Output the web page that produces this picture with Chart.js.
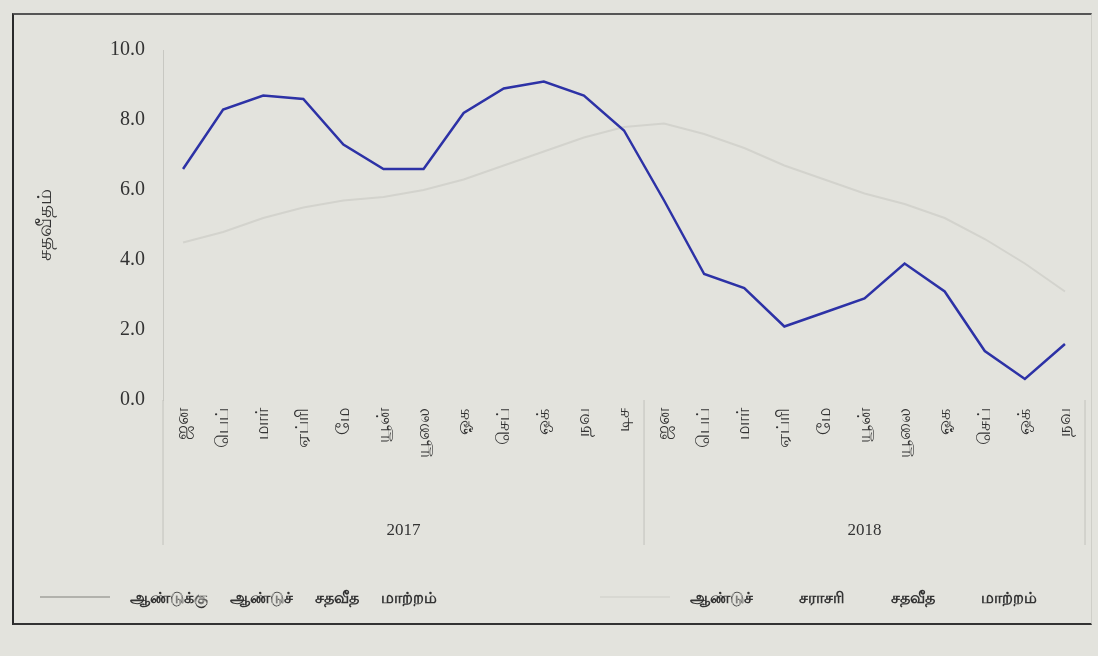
<!DOCTYPE html>
<html>
<head>
<meta charset="utf-8">
<script src="https://cdn.jsdelivr.net/npm/chart.js@4.4.1/dist/chart.umd.min.js"></script>
<style>
  html, body { margin: 0; padding: 0; background: #e3e3dd; }
  #wrap { position: relative; width: 1098px; height: 656px; }
  #frame {
    position: absolute; left: 12px; top: 13px; width: 1080px; height: 612px;
    border-left: 2px solid #2a2a2a; border-top: 2px solid #555; border-bottom: 2px solid #333;
    border-right: 1px solid #cfcfc9; box-sizing: border-box; pointer-events: none;
  }
  .leg { position: absolute; top: 585px; height: 24px; display: flex; align-items: center;
         font: bold 16px 'Noto Sans', 'DejaVu Sans', sans-serif; color: #333; white-space: nowrap; }
  .leg i { display: inline-block; width: 70px; height: 2px; margin-right: 20px; }
</style>
</head>
<body>
<div id="wrap">
  <canvas id="inflChart" width="1098" height="656"></canvas>
  <div id="frame"></div>
  <div class="leg" id="leg0" style="left:40px; word-spacing:18px"></div>
  <div class="leg" id="leg1" style="left:600px; word-spacing:42px"></div>
</div>
<script>
/* data */
const months2017 = ['ஜன', 'பெப்', 'மார்', 'ஏப்ரி', 'மே', 'யூன்', 'யூலை', 'ஓக', 'செப்', 'ஒக்', 'நவ', 'டிச'];
const months2018 = ['ஜன', 'பெப்', 'மார்', 'ஏப்ரி', 'மே', 'யூன்', 'யூலை', 'ஓக', 'செப்', 'ஒக்', 'நவ'];
const years = ['2017', '2018'];
const yoyChange = [6.6, 8.3, 8.7, 8.6, 7.3, 6.6, 6.6, 8.2, 8.9, 9.1, 8.7, 7.7,
                   5.7, 3.6, 3.2, 2.1, 2.5, 2.9, 3.9, 3.1, 1.4, 0.6, 1.6];
const avgChange = [4.5, 4.8, 5.2, 5.5, 5.7, 5.8, 6.0, 6.3, 6.7, 7.1, 7.5, 7.8,
                   7.9, 7.6, 7.2, 6.7, 6.3, 5.9, 5.6, 5.2, 4.6, 3.9, 3.1];
const yTicks = [0, 2, 4, 6, 8, 10];
const seriesNames = ['ஆண்டுக்கு ஆண்டுச் சதவீத மாற்றம்', 'ஆண்டுச் சராசரி சதவீத மாற்றம்'];
const yTitle = 'சதவீதம்';

const tamilFont = "'Noto Sans', 'DejaVu Sans', sans-serif";
const serifFont = "'Liberation Serif', 'DejaVu Serif', serif";

// legend as plain html below the chart (swatch colours as scanned)
const legendColors = ['#b2b2ac', '#d8d8d2'];
seriesNames.forEach((name, i) => {
  const el = document.getElementById('leg' + i);
  const sw = document.createElement('i');
  sw.style.background = legendColors[i];
  el.appendChild(sw);
  el.appendChild(document.createTextNode(name));
});

// year row under the month labels, with separators
const yearGroups = {
  id: 'yearGroups',
  afterDraw(chart) {
    const x = chart.scales.x;
    const ctx = chart.ctx;
    const n1 = months2017.length;
    const edges = [x.left, (x.getPixelForValue(n1 - 1) + x.getPixelForValue(n1)) / 2, x.right];
    ctx.save();
    ctx.strokeStyle = '#c2c2bc';
    ctx.lineWidth = 1;
    edges.forEach(e => {
      ctx.beginPath();
      ctx.moveTo(e, x.top);
      ctx.lineTo(e, x.top + 145);
      ctx.stroke();
    });
    ctx.fillStyle = '#333';
    ctx.font = '17px ' + serifFont;
    ctx.textAlign = 'center';
    ctx.textBaseline = 'middle';
    years.forEach((yr, i) => ctx.fillText(yr, (edges[i] + edges[i + 1]) / 2, x.top + 131));
    ctx.restore();
  }
};

new Chart(document.getElementById('inflChart'), {
  type: 'line',
  data: {
    labels: months2017.concat(months2018),
    datasets: [
      {
        label: seriesNames[0],
        data: yoyChange,
        borderColor: '#2d32a6',
        borderWidth: 2.5,
        pointRadius: 0,
        tension: 0,
        order: 0
      },
      {
        label: seriesNames[1],
        data: avgChange,
        borderColor: '#d3d3cd',
        borderWidth: 2,
        pointRadius: 0,
        tension: 0,
        order: 1
      }
    ]
  },
  options: {
    responsive: false,
    animation: false,
    layout: { padding: { top: 50, left: 30, right: 13, bottom: 30 } },
    plugins: {
      tooltip: { enabled: false },
      legend: { display: false }
    },
    scales: {
      x: {
        offset: true,
        grid: { display: false, drawTicks: false },
        border: { display: false },
        afterFit: (s) => { s.height = 226; },
        ticks: {
          minRotation: 90,
          maxRotation: 90,
          autoSkip: false,
          padding: 8,
          color: '#333',
          font: { family: tamilFont, size: 18 }
        }
      },
      y: {
        min: 0,
        max: 10,
        afterBuildTicks: (s) => { s.ticks = yTicks.map(v => ({ value: v })); },
        grid: { display: false, drawTicks: false },
        border: { display: true, color: '#c8c8c2' },
        title: {
          display: true,
          text: yTitle,
          color: '#333',
          font: { family: tamilFont, size: 20 },
          padding: { top: 3, bottom: 35 }
        },
        ticks: {
          padding: 18,
          color: '#333',
          font: { family: serifFont, size: 20 },
          callback: (v) => Number(v).toFixed(1)
        }
      }
    }
  },
  plugins: [yearGroups]
});
</script>
</body>
</html>
